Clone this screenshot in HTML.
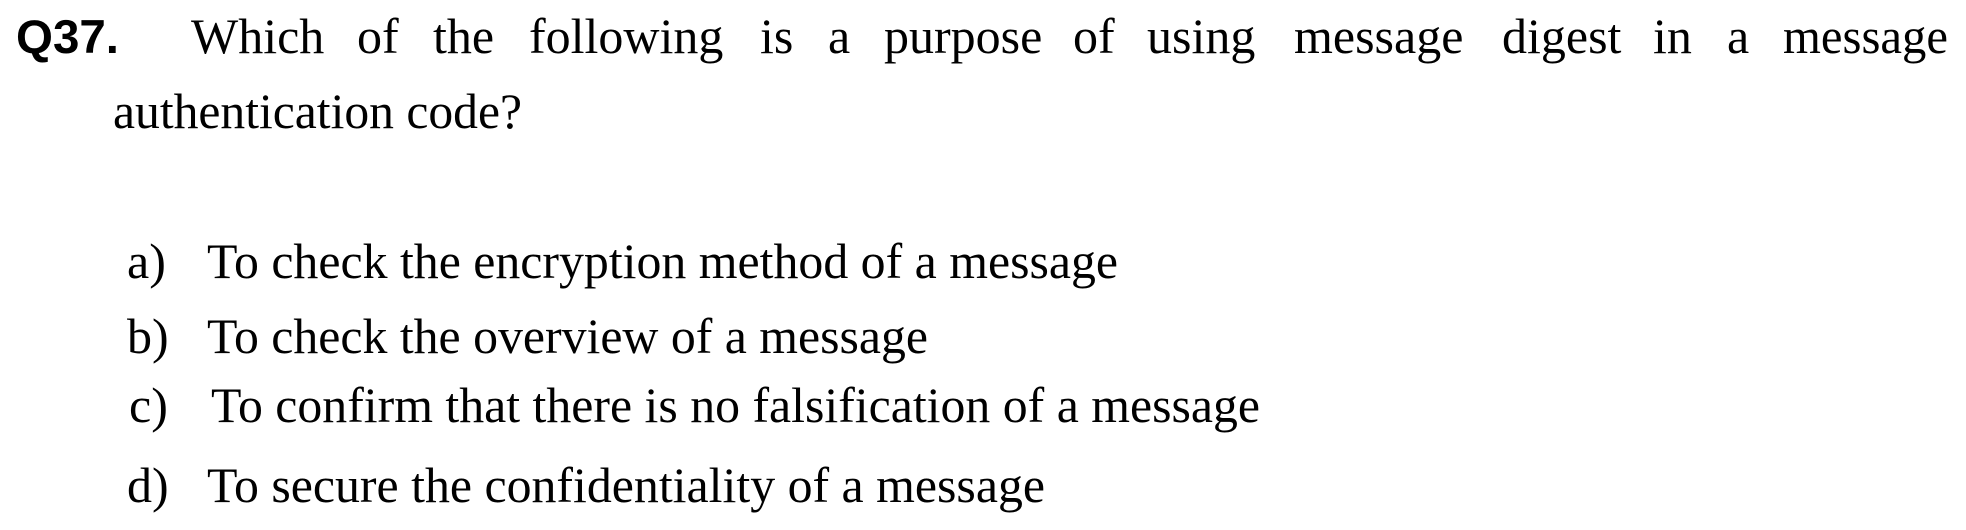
<!DOCTYPE html>
<html><head><meta charset="utf-8"><style>
html,body{margin:0;padding:0;background:#fff;}
svg{display:block;}
text{font-family:"Liberation Serif",serif;font-size:50px;fill:#000;}
</style></head><body>
<svg width="1966" height="530" viewBox="0 0 1966 530" xmlns="http://www.w3.org/2000/svg">
<rect width="1966" height="530" fill="#fff"/>
<text x="16" y="53" style="font-family:'Liberation Sans',sans-serif;font-weight:bold;font-size:47px" textLength="103" lengthAdjust="spacingAndGlyphs">Q37.</text>
<text x="191" y="53">Which</text>
<text x="357" y="53">of</text>
<text x="433" y="53">the</text>
<text x="529" y="53">following</text>
<text x="760" y="53">is</text>
<text x="828" y="53">a</text>
<text x="884" y="53">purpose</text>
<text x="1073" y="53">of</text>
<text x="1147" y="53">using</text>
<text x="1294" y="53">message</text>
<text x="1502" y="53">digest</text>
<text x="1653" y="53">in</text>
<text x="1727" y="53">a</text>
<text x="1783" y="53" textLength="165" lengthAdjust="spacingAndGlyphs">message</text>
<text x="113" y="128" textLength="409" lengthAdjust="spacingAndGlyphs">authentication code?</text>
<text x="127" y="278">a)</text>
<text x="207" y="278" textLength="911" lengthAdjust="spacingAndGlyphs">To check the encryption method of a message</text>
<text x="127" y="353">b)</text>
<text x="207" y="353" textLength="721" lengthAdjust="spacingAndGlyphs">To check the overview of a message</text>
<text x="129" y="422">c)</text>
<text x="211" y="422" textLength="1049" lengthAdjust="spacingAndGlyphs">To confirm that there is no falsification of a message</text>
<text x="127" y="502">d)</text>
<text x="207" y="502" textLength="838" lengthAdjust="spacingAndGlyphs">To secure the confidentiality of a message</text>
</svg>
</body></html>
